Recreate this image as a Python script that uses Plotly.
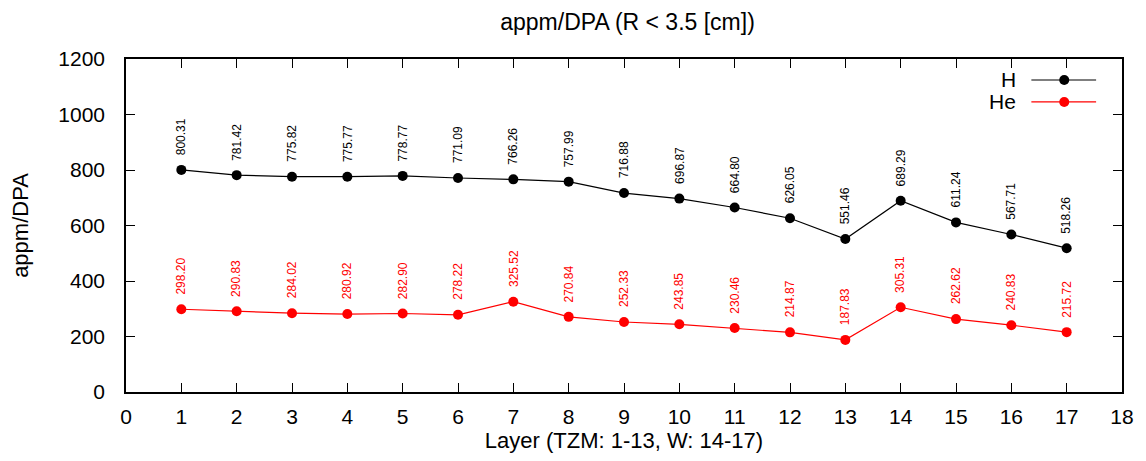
import plotly.graph_objects as go

layers = list(range(1, 18))
h_vals = [800.31, 781.42, 775.82, 775.77, 778.77, 771.09, 766.26, 757.99, 716.88,
          696.87, 664.80, 626.05, 551.46, 689.29, 611.24, 567.71, 518.26]
he_vals = [298.20, 290.83, 284.02, 280.92, 282.90, 278.22, 325.52, 270.84, 252.33,
           243.85, 230.46, 214.87, 187.83, 305.31, 262.62, 240.83, 215.72]
x_ticks = list(range(0, 19))
y_ticks = list(range(0, 1201, 200))

series = [("H", h_vals, "black"), ("He", he_vals, "red")]
FONT = "Liberation Sans, Arial, Helvetica, sans-serif"

fig = go.Figure()
annotations = []
for name, vals, col in series:
    fig.add_trace(go.Scatter(x=layers, y=vals, mode="lines+markers", name=name,
                             line=dict(color=col, width=1.2),
                             marker=dict(color=col, size=10), showlegend=False))
    for xv, yv in zip(layers, vals):
        annotations.append(dict(x=xv, y=yv, xref="x", yref="y", text=f"{yv:.2f}",
                                showarrow=False, textangle=-90, yshift=33,
                                xanchor="center", yanchor="middle",
                                font=dict(size=12, color=col, family=FONT)))

# custom legend (text left of sample, gnuplot style)
shapes = []
leg_rows = [("H", "black", 0.937), ("He", "red", 0.871)]
for name, col, yy in leg_rows:
    annotations.append(dict(x=0.896, y=yy, xref="paper", yref="paper", text=name,
                            showarrow=False, xanchor="right", yanchor="middle",
                            font=dict(size=21, color="black", family=FONT)))
    shapes.append(dict(type="line", xref="paper", yref="paper", x0=0.909, x1=0.974,
                       y0=yy, y1=yy, line=dict(color=col, width=1.2)))
    shapes.append(dict(type="circle", xref="paper", yref="paper",
                       xsizemode="pixel", ysizemode="pixel",
                       xanchor=0.942, yanchor=yy, x0=-5, x1=5, y0=-5, y1=5,
                       fillcolor=col, line=dict(color=col, width=0)))

fig.update_layout(
    width=1146, height=461,
    margin=dict(l=126, r=21, t=59, b=69),
    paper_bgcolor="white", plot_bgcolor="white",
    font=dict(family=FONT, size=21, color="black"),
    title=dict(text="appm/DPA (R < 3.5 [cm])", x=0.5476, xanchor="center",
               y=0.952, yanchor="middle", font=dict(size=23)),
    annotations=annotations, shapes=shapes,
    showlegend=False,
)
fig.update_xaxes(range=[0, 18], tickvals=x_ticks, ticktext=[str(v) for v in x_ticks],
                 showgrid=False, zeroline=False, showline=True, linecolor="black",
                 linewidth=1.5, mirror="ticks", ticks="inside", ticklen=9,
                 tickcolor="black", tickwidth=1.2, ticklabelstandoff=5,
                 title=dict(text="Layer (TZM: 1-13, W: 14-17)", standoff=1,
                            font=dict(size=22)),
                 tickfont=dict(size=21))
fig.update_yaxes(range=[0, 1200], tickvals=y_ticks, ticktext=[str(v) for v in y_ticks],
                 showgrid=False, zeroline=False, showline=True, linecolor="black",
                 linewidth=1.5, mirror="ticks", ticks="inside", ticklen=9,
                 tickcolor="black", tickwidth=1.2, ticklabelstandoff=15,
                 title=dict(text="appm/DPA", standoff=24, font=dict(size=22)),
                 tickfont=dict(size=21))

fig.write_html("out.html")
